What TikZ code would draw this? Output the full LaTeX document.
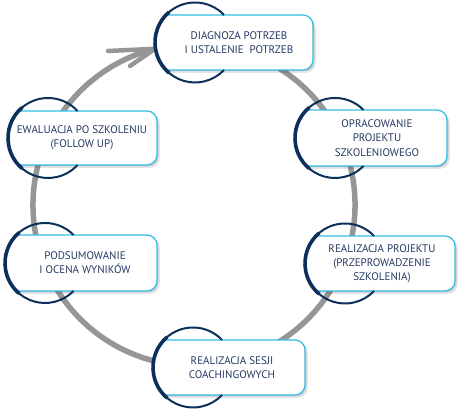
\documentclass[tikz,border=0pt]{standalone}
\usepackage{fontspec}
\setmainfont{PT Sans}
\usetikzlibrary{calc}
\definecolor{ringblue}{RGB}{12,48,92}
\definecolor{boxline}{RGB}{52,186,226}
\definecolor{txt}{RGB}{38,58,98}
\definecolor{arrowgray}{RGB}{150,150,150}
\tikzset{
  boxtext/.style={align=center,text=txt,font=\fontsize{11}{14.2}\selectfont,inner sep=0pt},
  cyclearc/.style={draw=arrowgray,line width=5.5pt,line cap=round},
  barb/.style={draw=arrowgray,line width=4.5pt,line cap=round},
  boxborder/.style={draw=boxline,line width=1.2pt},
  ringthin/.style={draw=ringblue,line width=2pt},
  ringthick/.style={draw=ringblue,line width=3.6pt},
}
% #1 name, #2 circle left x, #3 top y, #4 bottom y, #5 right x, #6 text centre x, #7 text
\newcommand\cyclebox[7]{%
  \pgfmathsetmacro\cbR{40}%
  \pgfmathsetmacro\cbcx{#2+\cbR}%
  \pgfmathsetmacro\cbcy{411-(#3+#4)/2}%
  \pgfmathsetmacro\cbh{(#4-#3)/2}%
  \pgfmathsetmacro\cbyT{\cbcy+\cbh}%
  \pgfmathsetmacro\cbyB{\cbcy-\cbh}%
  \pgfmathsetmacro\cbbe{asin(\cbh/\cbR)}%
  \pgfmathsetmacro\cbdx{\cbR*cos(\cbbe)}%
  \pgfmathsetmacro\cbxl{\cbcx-\cbdx}%
  \pgfmathsetmacro\cbxq{\cbcx+\cbdx}%
  \pgfmathsetmacro\cbxr{#5}%
  \pgfmathsetmacro\cbse{360-\cbbe}%
  \pgfmathsetmacro\cbkx{\cbcx+\cbR*cos(130)}%
  \pgfmathsetmacro\cbky{\cbcy+\cbR*sin(130)}%
  % shadow
  \fill[black,opacity=0.10] (\cbxl+2.8,\cbyT-2.8) -- (\cbxr-7.2,\cbyT-2.8) arc[start angle=90,end angle=0,radius=10pt] -- (\cbxr+2.8,\cbyB+7.2) arc[start angle=0,end angle=-90,radius=10pt] -- (\cbxl+2.8,\cbyB-2.8) -- cycle;
  \fill[black,opacity=0.10] (\cbxl+1.5,\cbyT-1.5) -- (\cbxr-8.5,\cbyT-1.5) arc[start angle=90,end angle=0,radius=10pt] -- (\cbxr+1.5,\cbyB+8.5) arc[start angle=0,end angle=-90,radius=10pt] -- (\cbxl+1.5,\cbyB-1.5) -- cycle;
  % box body
  \fill[white] (\cbxl,\cbyT) -- (\cbxr-10,\cbyT) arc[start angle=90,end angle=0,radius=10pt] -- (\cbxr,\cbyB+10) arc[start angle=0,end angle=-90,radius=10pt] -- (\cbxl,\cbyB) arc[start angle=180+\cbbe,end angle=180-\cbbe,radius=\cbR pt] -- cycle;
  \draw[boxborder] (\cbxl,\cbyT) -- (\cbxr-10,\cbyT) arc[start angle=90,end angle=0,radius=10pt] -- (\cbxr,\cbyB+10) arc[start angle=0,end angle=-90,radius=10pt] -- (\cbxl,\cbyB);
  % navy ring: outside part and left border
  \draw[ringthin] (\cbxq,\cbyT) arc[start angle=\cbbe,end angle=\cbse,radius=\cbR pt];
  \draw[ringthick] (\cbkx,\cbky) arc[start angle=130,end angle=230,radius=\cbR pt];
  \node[boxtext] (#1) at (#6,\cbcy) {#7};
}
\begin{document}
\begin{tikzpicture}[x=1pt,y=1pt]
\useasboundingbox (0,0) rectangle (460,411);
% big cycle arrow
\coordinate (cc) at (194,206);
\coordinate (tip) at ($(cc)+(104:161)$);
\draw[cyclearc] ($(cc)+(72:161)$) arc[start angle=72,end angle=-256,radius=161pt];
\draw[barb] (tip) -- (108,360);
\draw[barb] (tip) -- (130,345);
% boxes
\cyclebox{diag}{155}{15}{70}{313}{239}{DIAGNOZA POTRZEB\\I USTALENIE~ POTRZEB}
\cyclebox{oprac}{295}{110}{166}{447}{377}{OPRACOWANIE\\PROJEKTU\\SZKOLENIOWEGO}
\cyclebox{realp}{305}{236}{291}{455}{382}{REALIZACJA PROJEKTU\\(PRZEPROWADZENIE\\SZKOLENIA)}
\cyclebox{coach}{153}{340}{395}{305}{232}{REALIZACJA SESJI\\COACHINGOWYCH}
\cyclebox{podsum}{5}{235}{291}{157}{85}{PODSUMOWANIE\\I OCENA WYNIKÓW}
\cyclebox{ewal}{8}{111}{165}{157}{82}{EWALUACJA PO SZKOLENIU\\(FOLLOW UP)}
\end{tikzpicture}
\end{document}
